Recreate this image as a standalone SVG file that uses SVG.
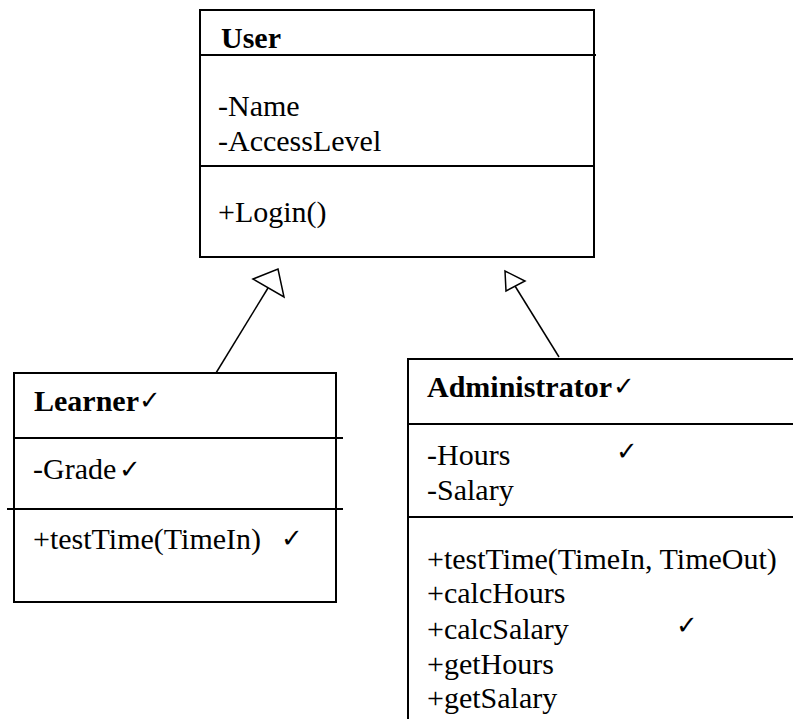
<svg xmlns="http://www.w3.org/2000/svg" width="793" height="719" viewBox="0 0 793 719">
<style>
.box{fill:#fff;stroke:#000;stroke-width:2}
.ln{stroke:#000;stroke-width:2;fill:none}
.conn{stroke:#000;stroke-width:1.5;fill:none}
.head{fill:#fff;stroke:#000;stroke-width:1.5}
.t{font-family:"Liberation Serif","Times New Roman",serif;font-size:30px;fill:#000}
.b{font-weight:bold}
.ck{font-family:"DejaVu Sans",sans-serif;font-size:26px;fill:#000}
</style>
<rect width="793" height="719" fill="#fff"/>
<g id="connectors">
<line class="conn" x1="216" y1="373" x2="268" y2="288"/>
<polygon class="head" points="253,279 278,269 284,297"/>
<line class="conn" x1="559" y1="357" x2="515" y2="286"/>
<polygon class="head" points="505,271 506,291 525,281"/>
</g>
<g id="user">
<rect class="box" x="200" y="10" width="394" height="247"/>
<line class="ln" x1="200" y1="55" x2="596" y2="55"/>
<line class="ln" x1="200" y1="166" x2="594" y2="166"/>
<text class="t b" x="221" y="48">User</text>
<text class="t" x="218" y="116">-Name</text>
<text class="t" x="218" y="151">-AccessLevel</text>
<text class="t" x="218" y="222">+Login()</text>
</g>
<g id="learner">
<rect class="box" x="14" y="373" width="322" height="229"/>
<line class="ln" x1="14" y1="438" x2="343" y2="438"/>
<line class="ln" x1="7" y1="509" x2="343" y2="509"/>
<text class="t b" x="34" y="411">Learner</text>
<text class="ck" x="139" y="409">✓</text>
<text class="t" x="33" y="479">-Grade</text>
<text class="ck" x="119" y="478">✓</text>
<text class="t" x="33" y="549">+testTime(TimeIn)</text>
<text class="ck" x="281" y="547">✓</text>
</g>
<g id="administrator">
<path class="ln" d="M793,359 H408 V719"/>
<line class="ln" x1="408" y1="424" x2="793" y2="424"/>
<line class="ln" x1="408" y1="517" x2="793" y2="517"/>
<text class="t b" x="427" y="397">Administrator</text>
<text class="ck" x="613" y="395">✓</text>
<text class="t" x="427" y="465">-Hours</text>
<text class="ck" x="616" y="460">✓</text>
<text class="t" x="427" y="500">-Salary</text>
<text class="t" x="427" y="569">+testTime(TimeIn, TimeOut)</text>
<text class="t" x="427" y="603">+calcHours</text>
<text class="t" x="427" y="639">+calcSalary</text>
<text class="ck" x="676" y="634">✓</text>
<text class="t" x="427" y="674">+getHours</text>
<text class="t" x="427" y="708">+getSalary</text>
</g>
</svg>
